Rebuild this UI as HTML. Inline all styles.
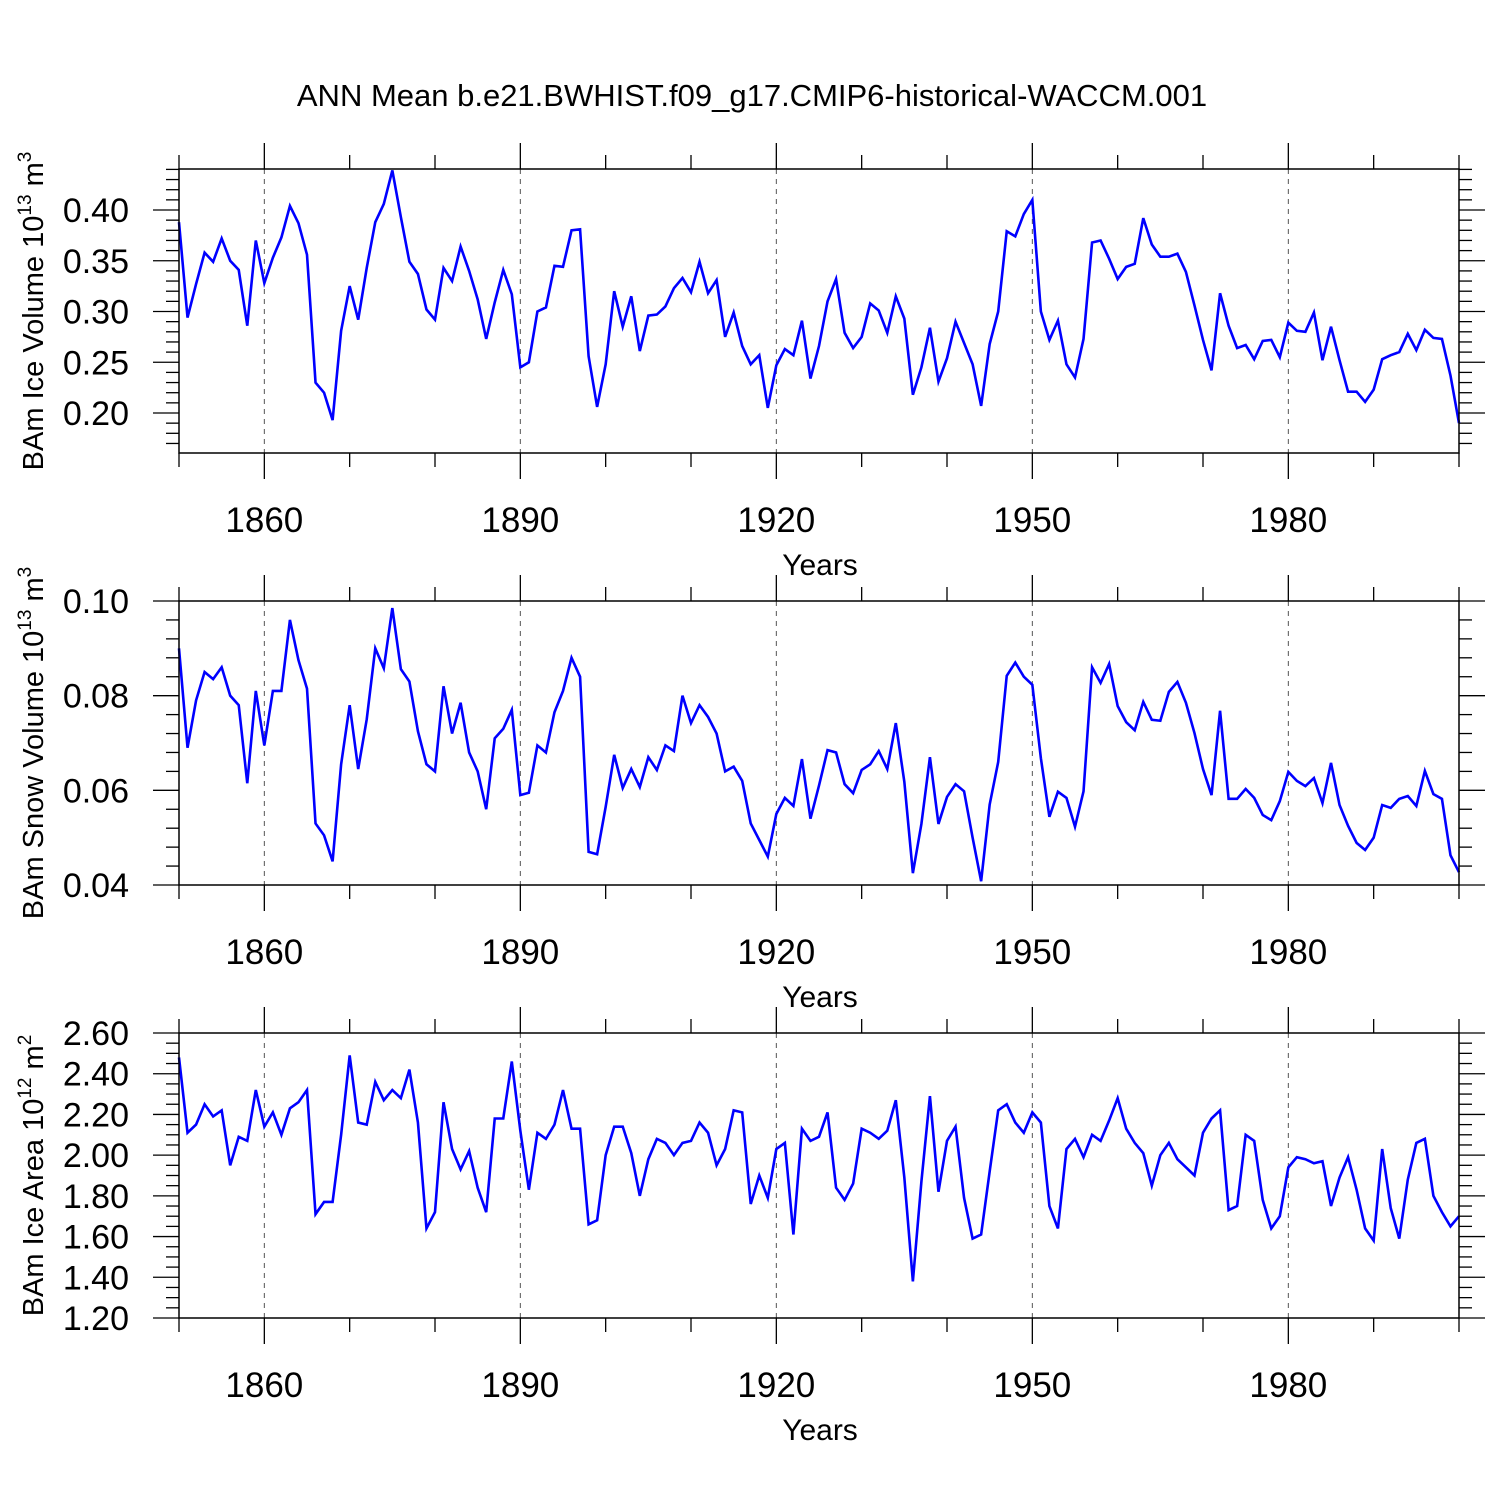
<!DOCTYPE html>
<html><head><meta charset="utf-8"><style>
html,body{margin:0;padding:0;background:#fff;width:1500px;height:1500px;overflow:hidden}
svg text{font-family:"Liberation Sans",sans-serif;fill:#000}
</style></head><body>
<svg id="chart" width="1500" height="1500" viewBox="0 0 1500 1500" xmlns="http://www.w3.org/2000/svg">
<text x="752" y="106" font-size="31" text-anchor="middle">ANN Mean b.e21.BWHIST.f09_g17.CMIP6-historical-WACCM.001</text>
</svg>
<script>
const iceVolume=[0.388,0.294,0.327,0.358,0.349,0.372,0.350,0.341,0.286,0.370,0.328,0.353,0.373,0.404,0.387,0.356,0.230,0.220,0.193,0.281,0.325,0.292,0.343,0.388,0.406,0.439,0.393,0.349,0.337,0.302,0.292,0.343,0.330,0.364,0.340,0.312,0.273,0.309,0.341,0.317,0.245,0.250,0.300,0.304,0.345,0.344,0.380,0.381,0.256,0.206,0.248,0.320,0.285,0.315,0.261,0.296,0.297,0.305,0.323,0.333,0.319,0.349,0.318,0.331,0.275,0.299,0.266,0.248,0.257,0.205,0.247,0.263,0.257,0.291,0.234,0.266,0.310,0.332,0.279,0.264,0.275,0.308,0.301,0.279,0.315,0.293,0.218,0.245,0.284,0.231,0.254,0.290,0.269,0.248,0.207,0.268,0.300,0.379,0.374,0.396,0.410,0.300,0.272,0.291,0.248,0.235,0.273,0.368,0.370,0.352,0.332,0.344,0.347,0.392,0.366,0.354,0.354,0.357,0.339,0.306,0.272,0.242,0.318,0.286,0.264,0.267,0.253,0.271,0.272,0.255,0.289,0.281,0.280,0.299,0.252,0.285,0.252,0.221,0.221,0.211,0.223,0.253,0.257,0.260,0.278,0.262,0.282,0.274,0.273,0.237,0.190];
const snowVolume=[0.090,0.069,0.079,0.085,0.0835,0.086,0.080,0.078,0.0615,0.081,0.0695,0.081,0.081,0.096,0.0875,0.0815,0.053,0.0505,0.045,0.0655,0.078,0.0645,0.075,0.090,0.0858,0.0985,0.0856,0.083,0.0725,0.0655,0.064,0.082,0.072,0.0785,0.068,0.064,0.056,0.071,0.073,0.077,0.059,0.0595,0.0695,0.068,0.0765,0.081,0.088,0.084,0.047,0.0465,0.0565,0.0675,0.0605,0.0645,0.0607,0.067,0.0643,0.0695,0.0683,0.080,0.0742,0.078,0.0755,0.072,0.064,0.065,0.062,0.053,0.0495,0.046,0.055,0.0584,0.0567,0.0666,0.054,0.061,0.0685,0.068,0.0613,0.0594,0.0643,0.0655,0.0683,0.0645,0.0742,0.0618,0.0425,0.0529,0.067,0.0529,0.0586,0.0613,0.0598,0.050,0.0408,0.057,0.066,0.0842,0.087,0.084,0.0823,0.0668,0.0544,0.0597,0.0584,0.0523,0.0598,0.086,0.0827,0.0867,0.0778,0.0744,0.0727,0.0787,0.0749,0.0747,0.0808,0.0829,0.0785,0.0721,0.0645,0.059,0.0768,0.0582,0.0582,0.0603,0.0584,0.0548,0.0537,0.0577,0.0639,0.062,0.0609,0.0626,0.0573,0.0658,0.0569,0.0525,0.0489,0.0474,0.050,0.0569,0.0563,0.0582,0.0588,0.0567,0.0641,0.0592,0.0582,0.0463,0.0427];
const iceArea=[2.48,2.11,2.15,2.25,2.19,2.22,1.95,2.09,2.07,2.32,2.14,2.21,2.10,2.23,2.26,2.32,1.71,1.77,1.77,2.10,2.49,2.16,2.15,2.36,2.27,2.32,2.28,2.42,2.16,1.64,1.72,2.26,2.03,1.93,2.02,1.84,1.72,2.18,2.18,2.46,2.12,1.83,2.11,2.08,2.15,2.32,2.13,2.13,1.66,1.68,2.00,2.14,2.14,2.01,1.80,1.98,2.08,2.06,2.00,2.06,2.07,2.16,2.11,1.95,2.03,2.22,2.21,1.76,1.90,1.79,2.03,2.06,1.61,2.13,2.07,2.09,2.21,1.84,1.78,1.86,2.13,2.11,2.08,2.12,2.27,1.89,1.38,1.87,2.29,1.82,2.07,2.14,1.79,1.59,1.61,1.92,2.22,2.25,2.16,2.11,2.21,2.16,1.75,1.64,2.03,2.08,1.99,2.10,2.07,2.17,2.28,2.13,2.06,2.01,1.85,2.00,2.06,1.98,1.94,1.90,2.11,2.18,2.22,1.73,1.75,2.10,2.07,1.78,1.64,1.70,1.94,1.99,1.98,1.96,1.97,1.75,1.89,1.99,1.83,1.64,1.58,2.03,1.74,1.59,1.88,2.06,2.08,1.80,1.72,1.65,1.70];
const xTickYears=[1860,1890,1920,1950,1980];
const yTicks1=[0.20,0.25,0.30,0.35,0.40];
const yTicks2=[0.04,0.06,0.08,0.10];
const yTicks3=[1.20,1.40,1.60,1.80,2.00,2.20,2.40,2.60];

const NS="http://www.w3.org/2000/svg";
const svg=document.getElementById('chart');
const X0=179,X1=1459,YR0=1850,YR1=2000;
function xs(yr){return X0+(yr-YR0)/(YR1-YR0)*(X1-X0);}
function mk(tag,attrs,parent){const e=document.createElementNS(NS,tag);for(const k in attrs)e.setAttribute(k,attrs[k]);(parent||svg).appendChild(e);return e;}

const panels=[
 {key:'ice-volume',top:169,bot:453,vmin:0.1606,vmax:0.4404,data:iceVolume,ticks:yTicks1,dec:2,minor:0.01,label:'BAm Ice Volume 10',sup1:'13',unit:' m',sup2:'3'},
 {key:'snow-volume',top:601,bot:885,vmin:0.04,vmax:0.10,data:snowVolume,ticks:yTicks2,dec:2,minor:0.004,label:'BAm Snow Volume 10',sup1:'13',unit:' m',sup2:'3'},
 {key:'ice-area',top:1033,bot:1318,vmin:1.20,vmax:2.60,data:iceArea,ticks:yTicks3,dec:2,minor:0.05,label:'BAm Ice Area 10',sup1:'12',unit:' m',sup2:'2'}
];

panels.forEach((p,pi)=>{
 const g=mk('g',{});
 
 
 const ys=v=>p.bot-(v-p.vmin)/(p.vmax-p.vmin)*(p.bot-p.top);
 xTickYears.forEach(yr=>{
  const l=mk('line',{x1:xs(yr),x2:xs(yr),y1:p.top,y2:p.bot,stroke:'#555','stroke-width':1,'stroke-dasharray':'5,5'},g);
  
  
 });
 for(let yr=1850;yr<=2000;yr+=10){
  const major=xTickYears.includes(yr);const len=major?26:14;
  mk('line',{x1:xs(yr),x2:xs(yr),y1:p.top,y2:p.top-len,stroke:'#000','stroke-width':1.3},g);
  mk('line',{x1:xs(yr),x2:xs(yr),y1:p.bot,y2:p.bot+len,stroke:'#000','stroke-width':1.3},g);
 }
 const start=Math.ceil((p.vmin-1e-9)/p.minor);
 for(let i=start;i*p.minor<=p.vmax+1e-9;i++){
  const v=i*p.minor;const y=ys(v);
  const major=p.ticks.some(t=>Math.abs(t-v)<1e-6);const len=major?26:13;
  mk('line',{x1:X0,x2:X0-len,y1:y,y2:y,stroke:'#000','stroke-width':1.3},g);
  mk('line',{x1:X1,x2:X1+len,y1:y,y2:y,stroke:'#000','stroke-width':1.3},g);
 }
 p.ticks.forEach(t=>{
  const tx=mk('text',{x:X0-50,y:ys(t)+12,'font-size':34,'text-anchor':'end'},g);
  tx.textContent=t.toFixed(p.dec);
  
  
 });
 xTickYears.forEach(yr=>{
  const tx=mk('text',{x:xs(yr),y:p.bot+79,'font-size':35,'text-anchor':'middle'},g);
  tx.textContent=yr;
  
  
 });
 const xt=mk('text',{x:820,y:p.bot+122,'font-size':30,'text-anchor':'middle'},g);
 xt.textContent='Years';
 
 
 const cy=(p.top+p.bot)/2;
 const yt=mk('text',{x:0,y:0,'font-size':29,'text-anchor':'middle',transform:`translate(43,${cy}) rotate(-90)`},g);
 
 
 yt.appendChild(document.createTextNode(p.label));
 const s1=mk('tspan',{dy:-12,'font-size':19},yt);s1.textContent=p.sup1;
 const u=mk('tspan',{dy:12},yt);u.textContent=p.unit;
 const s2=mk('tspan',{dy:-12,'font-size':19},yt);s2.textContent=p.sup2;
 const pts=p.data.map((v,i)=>xs(YR0+i).toFixed(2)+','+ys(v).toFixed(2)).join(' ');
 const pl=mk('polyline',{points:pts,fill:'none',stroke:'#0000ff','stroke-width':2.6,'stroke-linejoin':'miter'},g);
 
 
 const fr=mk('rect',{x:X0,y:p.top,width:X1-X0,height:p.bot-p.top,fill:'none',stroke:'#000','stroke-width':1.5},g);
 
 
});
</script>
</body></html>
